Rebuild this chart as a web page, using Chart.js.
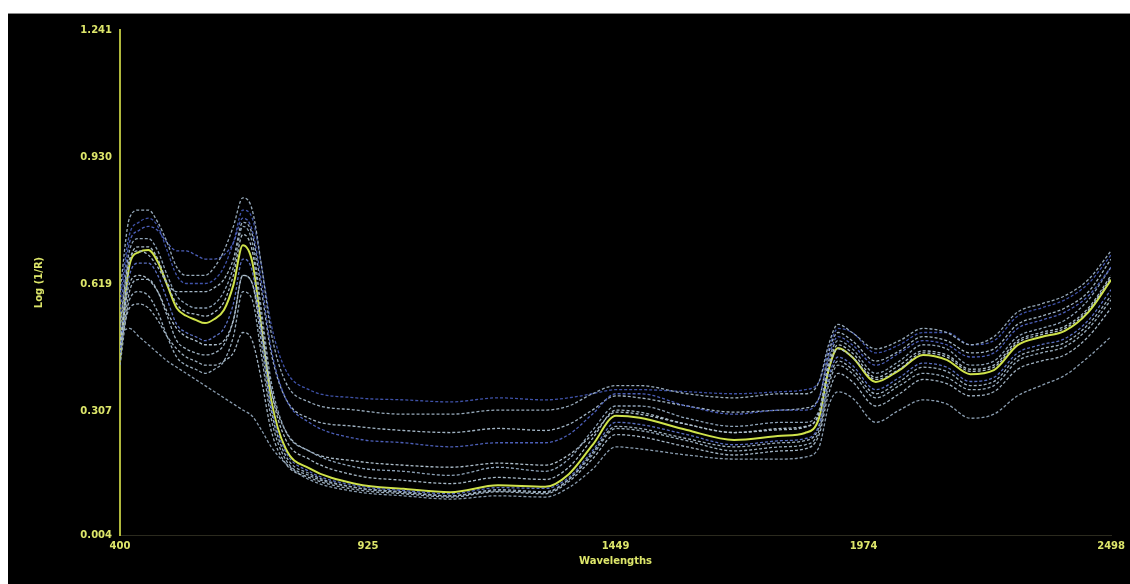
<!doctype html>
<html>
<head>
<meta charset="UTF-8">
<title>Log (1/R) spectra</title>
<script src="https://cdn.jsdelivr.net/npm/chart.js@4.4.1/dist/chart.umd.min.js"></script>
<style>
  html, body { margin: 0; padding: 0; background: #ffffff; }
  #box { position: absolute; left: 8px; top: 13px; width: 1122px; height: 571px; background: #000000; border-top: 1px solid #8a8a8a; box-sizing: border-box; }
  canvas { position: absolute; left: 0; top: -1px; }
</style>
</head>
<body>
<div id="box"><canvas id="canvas" width="1122" height="571"></canvas></div>
<script>
// wavelengths (nm)
var wavelengths = [400, 420, 440, 460, 480, 500, 520, 540, 560, 580, 600, 620, 640, 660, 680, 700, 720, 750, 800, 900,
  1000, 1100, 1200, 1300, 1350, 1400, 1450, 1500, 1600, 1700, 1800, 1850, 1880, 1900, 1920, 1950, 2000, 2050, 2100,
  2150, 2200, 2250, 2300, 2350, 2400, 2450, 2498];

var xTicks = [400, 925, 1449, 1974, 2498];
var yTicks = [0.004, 0.307, 0.619, 0.930, 1.241];

// mean spectrum (yellow)
var mean = [0.433, 0.665, 0.697, 0.702, 0.673, 0.616, 0.560, 0.541, 0.531, 0.523, 0.533, 0.555, 0.616, 0.714, 0.673, 0.506, 0.335, 0.217, 0.168, 0.129,
  0.117, 0.109, 0.126, 0.122, 0.153, 0.224, 0.296, 0.291, 0.261, 0.237, 0.247, 0.254, 0.291, 0.408, 0.462, 0.440, 0.379, 0.408, 0.445,
  0.433, 0.398, 0.408, 0.469, 0.489, 0.504, 0.550, 0.629];

// individual samples
var s1 = [0.60, 0.78, 0.80, 0.80, 0.77, 0.72, 0.66, 0.64, 0.64, 0.64, 0.66, 0.70, 0.76, 0.83, 0.80, 0.66, 0.50, 0.38, 0.33, 0.31,
  0.30, 0.30, 0.31, 0.31, 0.32, 0.35, 0.37, 0.37, 0.35, 0.34, 0.35, 0.35, 0.38, 0.47, 0.52, 0.50, 0.46, 0.48, 0.51,
  0.50, 0.47, 0.49, 0.55, 0.57, 0.59, 0.63, 0.70];
var s2 = [0.55, 0.72, 0.75, 0.76, 0.75, 0.72, 0.70, 0.70, 0.69, 0.68, 0.68, 0.69, 0.72, 0.78, 0.75, 0.62, 0.46, 0.34, 0.28, 0.24,
  0.23, 0.22, 0.23, 0.23, 0.25, 0.30, 0.35, 0.35, 0.32, 0.30, 0.31, 0.31, 0.34, 0.44, 0.49, 0.47, 0.42, 0.45, 0.48,
  0.47, 0.44, 0.45, 0.51, 0.53, 0.55, 0.59, 0.66];
var s3 = [0.52, 0.68, 0.70, 0.69, 0.66, 0.62, 0.60, 0.60, 0.60, 0.60, 0.61, 0.63, 0.68, 0.77, 0.74, 0.60, 0.45, 0.34, 0.29, 0.27,
  0.26, 0.255, 0.265, 0.26, 0.275, 0.31, 0.345, 0.34, 0.32, 0.305, 0.31, 0.315, 0.34, 0.45, 0.50, 0.48, 0.43, 0.455, 0.49,
  0.48, 0.45, 0.46, 0.52, 0.54, 0.56, 0.60, 0.68];
var s4 = [0.50, 0.70, 0.73, 0.73, 0.70, 0.64, 0.59, 0.57, 0.56, 0.56, 0.57, 0.60, 0.66, 0.76, 0.72, 0.55, 0.38, 0.26, 0.21, 0.17,
  0.16, 0.15, 0.17, 0.16, 0.19, 0.26, 0.32, 0.32, 0.29, 0.27, 0.28, 0.28, 0.31, 0.43, 0.48, 0.46, 0.40, 0.43, 0.47,
  0.46, 0.42, 0.43, 0.49, 0.51, 0.53, 0.58, 0.66];
var s5 = [0.47, 0.62, 0.64, 0.63, 0.60, 0.55, 0.51, 0.49, 0.48, 0.47, 0.47, 0.48, 0.53, 0.64, 0.62, 0.50, 0.36, 0.26, 0.21, 0.185,
  0.175, 0.17, 0.18, 0.175, 0.20, 0.25, 0.305, 0.30, 0.275, 0.255, 0.265, 0.27, 0.30, 0.41, 0.46, 0.44, 0.385, 0.41, 0.45,
  0.44, 0.405, 0.415, 0.475, 0.495, 0.51, 0.555, 0.635];
var s6 = [0.45, 0.64, 0.67, 0.67, 0.64, 0.58, 0.52, 0.50, 0.49, 0.48, 0.49, 0.51, 0.57, 0.68, 0.65, 0.49, 0.32, 0.21, 0.16, 0.125,
  0.113, 0.105, 0.12, 0.118, 0.145, 0.21, 0.28, 0.275, 0.25, 0.225, 0.235, 0.24, 0.275, 0.39, 0.44, 0.42, 0.36, 0.39, 0.425,
  0.415, 0.38, 0.39, 0.45, 0.47, 0.485, 0.53, 0.605];
var s7 = [0.42, 0.58, 0.60, 0.59, 0.55, 0.49, 0.44, 0.42, 0.41, 0.40, 0.41, 0.43, 0.49, 0.60, 0.58, 0.44, 0.29, 0.19, 0.15, 0.12,
  0.11, 0.10, 0.115, 0.11, 0.14, 0.20, 0.265, 0.26, 0.235, 0.21, 0.22, 0.225, 0.26, 0.37, 0.42, 0.40, 0.34, 0.37, 0.40,
  0.39, 0.36, 0.37, 0.43, 0.45, 0.465, 0.51, 0.58];
var s8 = [0.46, 0.56, 0.57, 0.56, 0.53, 0.49, 0.46, 0.44, 0.43, 0.42, 0.42, 0.43, 0.45, 0.50, 0.48, 0.38, 0.26, 0.18, 0.145, 0.115,
  0.105, 0.097, 0.11, 0.105, 0.135, 0.19, 0.25, 0.245, 0.22, 0.20, 0.21, 0.215, 0.25, 0.35, 0.40, 0.38, 0.32, 0.35, 0.385,
  0.375, 0.345, 0.355, 0.41, 0.43, 0.445, 0.49, 0.56];
var s9 = [0.50, 0.51, 0.49, 0.47, 0.45, 0.43, 0.415, 0.40, 0.385, 0.37, 0.355, 0.34, 0.325, 0.31, 0.295, 0.26, 0.22, 0.18, 0.14, 0.11,
  0.10, 0.092, 0.10, 0.097, 0.12, 0.165, 0.22, 0.215, 0.20, 0.19, 0.19, 0.195, 0.22, 0.32, 0.355, 0.34, 0.28, 0.31, 0.335,
  0.325, 0.29, 0.30, 0.345, 0.37, 0.395, 0.44, 0.49];
var s10 = [0.44, 0.60, 0.63, 0.63, 0.60, 0.54, 0.48, 0.46, 0.45, 0.445, 0.45, 0.47, 0.53, 0.64, 0.62, 0.47, 0.31, 0.20, 0.155, 0.12,
  0.108, 0.10, 0.112, 0.108, 0.14, 0.205, 0.27, 0.265, 0.24, 0.22, 0.23, 0.235, 0.27, 0.38, 0.43, 0.41, 0.35, 0.38, 0.415,
  0.405, 0.37, 0.38, 0.44, 0.46, 0.475, 0.52, 0.59];
var s11 = [0.58, 0.74, 0.77, 0.78, 0.76, 0.70, 0.64, 0.62, 0.62, 0.62, 0.63, 0.66, 0.72, 0.80, 0.78, 0.66, 0.52, 0.41, 0.36, 0.34,
  0.335, 0.33, 0.34, 0.335, 0.34, 0.35, 0.36, 0.36, 0.355, 0.35, 0.355, 0.36, 0.38, 0.46, 0.51, 0.50, 0.45, 0.47, 0.50,
  0.50, 0.47, 0.48, 0.54, 0.56, 0.58, 0.62, 0.69];
var s12 = [0.47, 0.67, 0.71, 0.71, 0.68, 0.62, 0.57, 0.55, 0.545, 0.54, 0.55, 0.575, 0.64, 0.74, 0.70, 0.53, 0.36, 0.24, 0.19, 0.15,
  0.138, 0.13, 0.145, 0.14, 0.17, 0.24, 0.31, 0.305, 0.275, 0.255, 0.262, 0.268, 0.305, 0.42, 0.47, 0.45, 0.39, 0.42, 0.455,
  0.445, 0.41, 0.42, 0.48, 0.50, 0.515, 0.56, 0.64];

var samples = [s1, s2, s3, s4, s5, s6, s7, s8, s9, s10, s11, s12];
var sampleColors = ['#98abbc', '#4c5fb8', '#a2b5c5', '#8ea3b8', '#aebfcc', '#5a6fc0', '#97abbc', '#a0b2c2', '#8a9db0',
  '#9db0c0', '#3f52a8', '#a8bac8'];

function toPoints(arr) {
  return wavelengths.map(function (w, i) { return { x: w, y: arr[i] }; });
}

var datasets = [];
for (var i = 0; i < samples.length; i++) {
  datasets.push({
    label: 'sample ' + (i + 1),
    data: toPoints(samples[i]),
    borderColor: sampleColors[i],
    borderWidth: 1.3,
    borderDash: [3, 2],
    pointRadius: 0,
    cubicInterpolationMode: 'monotone',
    fill: false
  });
}
datasets.push({
  label: 'mean',
  data: toPoints(mean),
  borderColor: '#cfe24a',
  borderWidth: 2,
  pointRadius: 0,
  cubicInterpolationMode: 'monotone',
  fill: false
});

var textColor = '#dde66a';
var labelFont = { family: 'DejaVu Sans', size: 10, weight: 'bold' };

var ctx = document.getElementById('canvas').getContext('2d');
window.myChart = new Chart(ctx, {
  type: 'line',
  data: { datasets: datasets },
  options: {
    responsive: false,
    devicePixelRatio: 1,
    animation: false,
    layout: { padding: { top: 17, right: 15, left: 0, bottom: 0 } },
    plugins: { legend: { display: false }, tooltip: { enabled: false } },
    scales: {
      x: {
        type: 'linear',
        min: 400,
        max: 2498,
        afterBuildTicks: function (axis) { axis.ticks = xTicks.map(function (v) { return { value: v }; }); },
        afterFit: function (axis) { axis.height = 49; },
        grid: { display: false, drawTicks: false },
        border: { display: true, color: '#2b2a1e', width: 1 },
        ticks: { color: textColor, font: labelFont, padding: 5, maxRotation: 0, autoSkip: false,
          callback: function (v) { return String(v); } },
        title: { display: true, text: 'Wavelengths', color: textColor, font: labelFont, padding: { top: 0, bottom: 17 } }
      },
      y: {
        min: 0.004,
        max: 1.241,
        afterBuildTicks: function (axis) { axis.ticks = yTicks.map(function (v) { return { value: v }; }); },
        afterFit: function (axis) { axis.width = 112; },
        grid: { display: false, drawTicks: false },
        border: { display: true, color: '#b0b83c', width: 2 },
        ticks: { color: textColor, font: labelFont, padding: 8, autoSkip: false,
          callback: function (v) { return Number(v).toFixed(3); } },
        title: { display: true, text: 'Log (1/R)', color: textColor, font: labelFont, padding: { top: 25, bottom: 0 } }
      }
    }
  }
});
</script>
</body>
</html>
